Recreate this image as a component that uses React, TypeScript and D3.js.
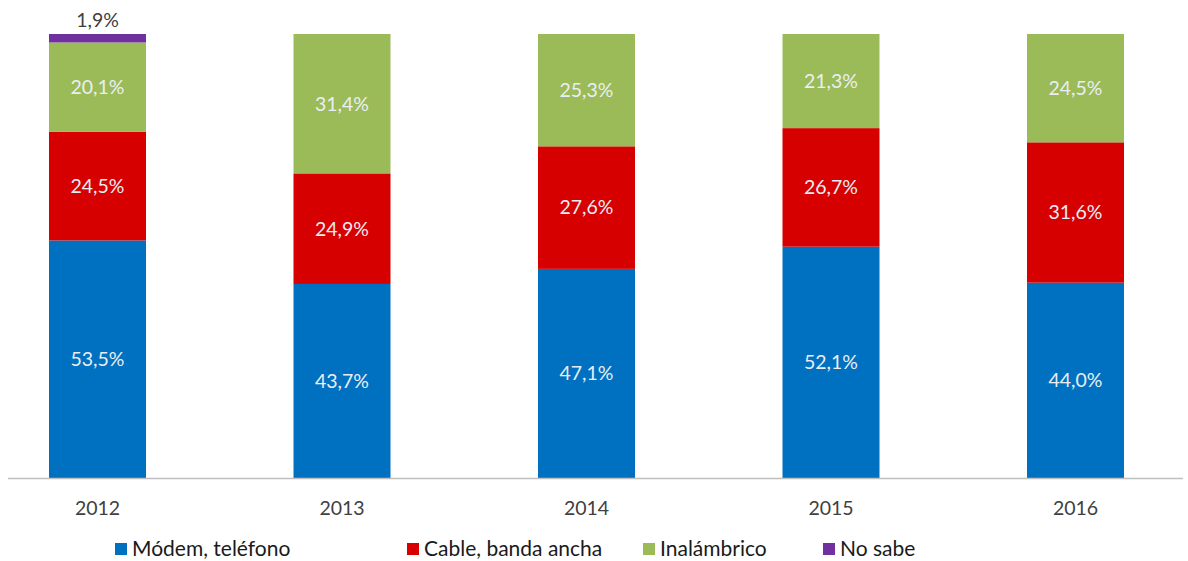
import React from "react";
import * as d3 from "d3";

const WIDTH = 1188;
const HEIGHT = 561;

const years = ["2012", "2013", "2014", "2015", "2016"];
const series = ["Módem, teléfono", "Cable, banda ancha", "Inalámbrico", "No sabe"];
const colors = ["#0070c0", "#d60000", "#9bbb59", "#7030a0"];

const modem = [53.5, 43.7, 47.1, 52.1, 44.0];
const cable = [24.5, 24.9, 27.6, 26.7, 31.6];
const inalambrico = [20.1, 31.4, 25.3, 21.3, 24.5];
const noSabe = [1.9, 0, 0, 0, 0];

// legend square left edges, as Excel spaced them
const legendX = [115, 407, 643, 823];

const fmt = (v: number) => v.toFixed(1).replace(".", ",") + "%";

export default function App() {
  const rows = years.map((year, i) => ({
    year,
    s0: modem[i],
    s1: cable[i],
    s2: inalambrico[i],
    s3: noSabe[i],
  }));

  const stack = d3.stack<any>().keys(["s0", "s1", "s2", "s3"]);
  const layers = stack(rows);

  const x = d3.scalePoint<string>().domain(years).range([97.5, 1075.5]);
  const y = d3.scaleLinear().domain([0, 100]).range([478, 34]);
  const barW = 97;
  const font = "Lato, 'Open Sans', sans-serif";

  return (
    <div style={{ position: "absolute", left: 0, top: 0 }}>
      <svg width={WIDTH} height={HEIGHT} style={{ display: "block", background: "#fff" }}>
        {layers.map((layer, k) => (
          <g key={k} fill={colors[k]}>
            {layer.map((d, i) => {
              if (d[1] - d[0] <= 0) return null;
              const top = Math.max(y(Math.min(d[1], 100)), y(100));
              return (
                <rect
                  key={i}
                  x={x(years[i])! - barW / 2}
                  y={top}
                  width={barW}
                  height={y(d[0]) - top}
                />
              );
            })}
          </g>
        ))}

        <line x1={8} x2={1183} y1={y(0) + 0.5} y2={y(0) + 0.5} stroke="#bfbfbf" strokeWidth={1.5} />

        <g fontFamily={font} fontSize={19.5} textAnchor="middle">
          {layers.map((layer, k) =>
            layer.map((d, i) => {
              const v = d[1] - d[0];
              if (v <= 0) return null;
              const cx = x(years[i])!;
              if (k === 3) {
                return (
                  <text key={`${k}-${i}`} x={cx} y={y(Math.min(d[1], 100)) - 7} fill="#404040">
                    {fmt(v)}
                  </text>
                );
              }
              const cy = (y(d[0]) + y(Math.min(d[1], 100))) / 2;
              return (
                <text key={`${k}-${i}`} x={cx} y={cy} dy="0.35em" fill="#eaeef3">
                  {fmt(v)}
                </text>
              );
            })
          )}
        </g>

        <g fontFamily={font} fontSize={19.5} textAnchor="middle" fill="#404040">
          {years.map((yr) => (
            <text key={yr} x={x(yr)} y={515}>
              {yr}
            </text>
          ))}
        </g>

        <g fontFamily={font} fontSize={21} fill="#1a1a1a">
          {series.map((s, i) => (
            <g key={s} transform={`translate(${legendX[i]},0)`}>
              <rect x={0} y={543} width={12} height={12} fill={colors[i]} />
              <text x={17} y={556}>
                {s}
              </text>
            </g>
          ))}
        </g>
      </svg>
    </div>
  );
}
